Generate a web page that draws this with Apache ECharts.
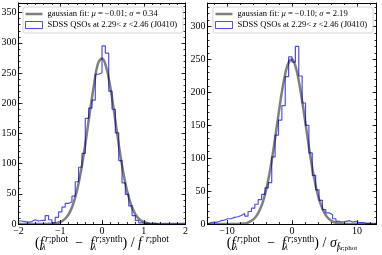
<!DOCTYPE html>
<html><head><meta charset="utf-8">
<script src="https://cdn.jsdelivr.net/npm/echarts@6/dist/echarts.min.js"></script>
<style>html,body{margin:0;padding:0;background:#fff}#c{width:382px;height:255px}</style>
</head><body><div id="c"></div>
<script>
// ---------- data ----------
// Left panel: (f_phot - f_synth)/f_phot histogram, 50 bins of 0.08 from -2
const leftBinStart = -2.0;
const leftBinWidth = 0.08;
const leftCounts = [5,4,3,4,7,5,6,6,14,7, 2,11,20,28,34,37,46,70,94,117,
                    175,192,205,248,250,295,283,220,190,151, 105,68,49,30,14,6,2,1,1,0,
                    1,0,0,0,0,0,0,0,0,0];
const leftFitX = [-2.0,-1.9,-1.8,-1.7,-1.6,-1.5,-1.4,-1.3,-1.2,-1.1,-1.0,-0.9,-0.8,-0.7,-0.6,-0.5,-0.4,-0.3,-0.2,-0.1,
                  0.0,0.1,0.2,0.3,0.4,0.5,0.6,0.7,0.8,0.9,1.0,1.1,1.2,1.3,1.4,1.5,1.6,1.7,1.8,1.9,2.0];
const leftFitY = [0,0,0,0,0,0,0,0.2,0.5,1.3,3.3,7.6,16,31,55,89,132,181,227,265,
                  274,260,226,181,132,89,55,31,16,7.6,3.3,1.3,0.5,0.2,0,0,0,0,0,0,0];
const leftFitName = 'gaussian fit: μ = −0.01; σ = 0.34';

// Right panel: (f_phot - f_synth)/sigma histogram, 50 bins of 0.52 from -13
const rightBinStart = -13;
const rightBinWidth = 0.52;
const rightCounts = [2,3,3,5,6,8,8,10,11,13, 16,12,19,24,30,37,45,55,63,102,
                     135,158,180,224,254,246,270,225,184,150, 108,74,52,36,22,17,14,8,4,3,
                     4,5,3,4,2,2,1,1,0,1];
const rightFitX = [-13,-12.5,-12,-11.5,-11,-10.5,-10,-9.5,-9,-8.5,-8,-7.5,-7,-6.5,-6,-5.5,-5,-4.5,-4,-3.5,-3,-2.5,-2,-1.5,-1,-0.5,
                   0,0.5,1,1.5,2,2.5,3,3.5,4,4.5,5,5.5,6,6.5,7,7.5,8,8.5,9,9.5,10,10.5,11,11.5,12,12.5,13];
const rightFitY = [0,0,0,0,0,0,0,0,0,0.1,0.3,0.6,1.3,3.5,6.6,12,20.5,33,51,75,104,137,172,204,230,246,
                   250,241,220,191,158,124,92,65,43,27.5,16.6,9.5,5.2,2.7,1.3,0.6,0.3,0.1,0,0,0,0,0,0,0,0,0];
const rightFitName = 'gaussian fit: μ = −0.10; σ = 2.19';

const histName = 'SDSS QSOs at 2.29< z <2.46 (J0410)';

// ticks
const leftXMajor = [-2,-1,0,1,2];
const leftYMajor = [0,50,100,150,200,250,300,350];
const rightXMajor = [-10,0,10];
const rightYMajor = [0,50,100,150,200,250,300];
const leftXRange = [-2, 2], leftYMax = 366;
const rightXRange = [-13, 13], rightYMax = 336;

// ---------- helpers ----------
const FONT = "'Liberation Serif','DejaVu Serif',serif";
function steps(lo, hi, st){ const a=[]; const n=Math.round((hi-lo)/st); for(let i=0;i<=n;i++) a.push(+(lo+i*st).toFixed(6)); return a; }
function stepData(start, width, counts){
  const n = counts.length, pts = [[start,0]];
  for (let k=0;k<n;k++) pts.push([+(start+k*width).toFixed(6), counts[k]]);
  pts.push([+(start+n*width).toFixed(6), counts[n-1]]);
  pts.push([+(start+n*width).toFixed(6), 0]);
  return pts;
}
function zip(xs, ys){ return xs.map((x,i)=>[x, ys[i]]); }
const fmt = v => String(v).replace('-', '\u2212');

const nameRich = {
  m:{fontFamily:FONT, fontSize:14, lineHeight:18, color:'#000'},
  mi:{fontFamily:FONT, fontSize:14, lineHeight:18, fontStyle:'italic', color:'#000'},
  sp:{fontFamily:FONT, fontSize:9.5, lineHeight:6, verticalAlign:'top', color:'#000'},
  spi:{fontFamily:FONT, fontSize:9.5, lineHeight:6, verticalAlign:'top', fontStyle:'italic', color:'#000', padding:[0,0,0,1.5]},
  sb:{fontFamily:FONT, fontSize:9.5, lineHeight:8, verticalAlign:'bottom', fontStyle:'italic', width:0, align:'left', color:'#000'},
  sbi:{fontFamily:FONT, fontSize:9.5, lineHeight:8, verticalAlign:'bottom', fontStyle:'italic', color:'#000'},
  ssb:{fontFamily:FONT, fontSize:7, lineHeight:3, verticalAlign:'bottom', fontStyle:'italic', width:0, align:'left', color:'#000'},
  ssp:{fontFamily:FONT, fontSize:7, lineHeight:13, verticalAlign:'bottom', color:'#000', padding:[0,0,0,1]}
};
const leftName = '{m|(}{mi|f}{sb|λ}{spi|r}{sp|;phot}{m|  −  }{mi|f}{sb|λ}{spi|r}{sp|;synth}{m|) / }{mi|f}{spi| r}{sp|;phot}';
const rightName = '{m|(}{mi|f}{sb|λ}{spi|r}{sp|;phot}{m|  −  }{mi|f}{sb|λ}{spi|r}{sp|;synth}{m|) / }{mi|σ}{sbi|f}{ssb|λ}{ssp|r;phot}';

const tickStyle = {color:'#000', width:0.8};
function xAxes(g, range, majors, minors, name){
  const base = {gridIndex:g, type:'value', min:range[0], max:range[1], splitLine:{show:false}};
  return [
    Object.assign({}, base, {position:'bottom',
      axisLine:{show:true, onZero:false, lineStyle:{color:'#000', width:1}},
      axisTick:{show:true, inside:true, length:4, customValues:majors, lineStyle:tickStyle},
      axisLabel:{show:true, customValues:majors, formatter:fmt, margin:2, color:'#000', fontFamily:FONT, fontSize:10},
      name:name, nameLocation:'middle', nameGap:10, nameMoveOverlap:false,
      nameTextStyle:{color:'#000', fontFamily:FONT, fontSize:14, lineHeight:18, rich:nameRich}}),
    Object.assign({}, base, {position:'bottom', axisLine:{show:false, onZero:false},
      axisTick:{show:true, inside:true, length:2, customValues:minors, lineStyle:tickStyle}, axisLabel:{show:false}}),
    Object.assign({}, base, {position:'top', axisLine:{show:true, onZero:false, lineStyle:{color:'#000', width:1}},
      axisTick:{show:true, inside:true, length:4, customValues:majors, lineStyle:tickStyle}, axisLabel:{show:false}}),
    Object.assign({}, base, {position:'top', axisLine:{show:false, onZero:false},
      axisTick:{show:true, inside:true, length:2, customValues:minors, lineStyle:tickStyle}, axisLabel:{show:false}})
  ];
}
function yAxes(g, max, majors, minors){
  const base = {gridIndex:g, type:'value', min:0, max:max, splitLine:{show:false}};
  return [
    Object.assign({}, base, {position:'left',
      axisLine:{show:true, onZero:false, lineStyle:{color:'#000', width:1}},
      axisTick:{show:true, inside:true, length:4, customValues:majors, lineStyle:tickStyle},
      axisLabel:{show:true, customValues:majors, margin:2, color:'#000', fontFamily:FONT, fontSize:10}}),
    Object.assign({}, base, {position:'left', axisLine:{show:false, onZero:false},
      axisTick:{show:true, inside:true, length:2, customValues:minors, lineStyle:tickStyle}, axisLabel:{show:false}}),
    Object.assign({}, base, {position:'right', axisLine:{show:true, onZero:false, lineStyle:{color:'#000', width:1}},
      axisTick:{show:true, inside:true, length:4, customValues:majors, lineStyle:tickStyle}, axisLabel:{show:false}}),
    Object.assign({}, base, {position:'right', axisLine:{show:false, onZero:false},
      axisTick:{show:true, inside:true, length:2, customValues:minors, lineStyle:tickStyle}, axisLabel:{show:false}})
  ];
}

function legend(left, fitName){
  return {
    left:left, top:7, orient:'vertical', itemGap:0, itemWidth:17, itemHeight:7, itemSymbolKeepAspect:false, symbolKeepAspect:false,
    padding:[1.5,6,2.5,2], backgroundColor:'rgba(255,255,255,0.85)', borderColor:'#cccccc', borderWidth:0.8, borderRadius:2.5,
    selectedMode:false,
    textStyle:{fontFamily:FONT, fontSize:8.6, lineHeight:11, color:'#000', rich:{i:{fontFamily:FONT, fontSize:8.6, fontStyle:'italic', color:'#000'}}},
    formatter: n => n.replace(/([μσz])/g, '{i|$1}'),
    data:[
      {name:fitName, icon:'path://M0,0M0,7M0,2.25L17,2.25L17,4.75L0,4.75Z', itemStyle:{color:'rgba(0,0,0,0.5)', borderWidth:0}},
      {name:histName, icon:'rect', itemStyle:{color:'#ffffff', borderColor:'rgba(0,0,255,0.7)', borderWidth:1}}
    ]
  };
}

const chart = echarts.init(document.getElementById('c'), null, {renderer:'canvas'});
chart.setOption({
  animation:false,
  backgroundColor:'#fff',
  grid:[
    {left:18.5, top:3, width:167, height:221, outerBoundsMode:'none', containLabel:false},
    {left:207.5, top:3, width:169, height:221, outerBoundsMode:'none', containLabel:false}
  ],
  xAxis:[].concat(
    xAxes(0, leftXRange, leftXMajor, steps(-2,2,0.2), leftName),
    xAxes(1, rightXRange, rightXMajor, steps(-12,12,2), rightName)),
  yAxis:[].concat(
    yAxes(0, leftYMax, leftYMajor, steps(0,360,10)),
    yAxes(1, rightYMax, rightYMajor, steps(0,330,10))),
  legend:[legend(23, leftFitName), legend(213, rightFitName)],
  series:[
    {name:histName, type:'line', xAxisIndex:0, yAxisIndex:0, step:'end', symbol:'none', z:2,
     lineStyle:{color:'rgba(0,0,255,0.7)', width:1.2}, itemStyle:{color:'rgba(0,0,255,0.7)'},
     data:stepData(leftBinStart, leftBinWidth, leftCounts)},
    {name:leftFitName, type:'line', xAxisIndex:0, yAxisIndex:0, smooth:0.4, symbol:'none', z:3,
     lineStyle:{color:'rgba(0,0,0,0.5)', width:2.5}, itemStyle:{color:'rgba(0,0,0,0.5)'},
     data:zip(leftFitX, leftFitY)},
    {name:histName, type:'line', xAxisIndex:4, yAxisIndex:4, step:'end', symbol:'none', z:2,
     lineStyle:{color:'rgba(0,0,255,0.7)', width:1.2}, itemStyle:{color:'rgba(0,0,255,0.7)'},
     data:stepData(rightBinStart, rightBinWidth, rightCounts)},
    {name:rightFitName, type:'line', xAxisIndex:4, yAxisIndex:4, smooth:0.4, symbol:'none', z:3,
     lineStyle:{color:'rgba(0,0,0,0.5)', width:2.5}, itemStyle:{color:'rgba(0,0,0,0.5)'},
     data:zip(rightFitX, rightFitY)}
  ]
});
</script></body></html>
